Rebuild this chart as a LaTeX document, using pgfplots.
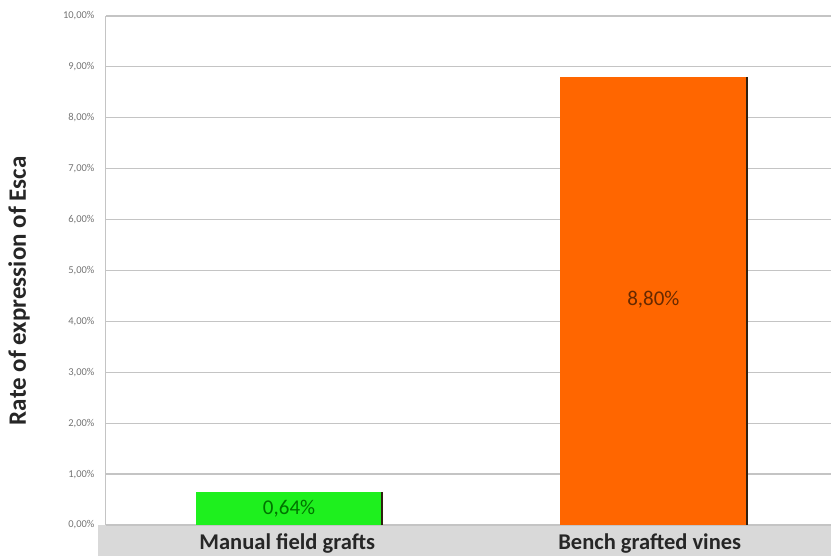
\documentclass[border=0pt]{standalone}
\usepackage{pgfplots}
\pgfplotsset{compat=1.18}
\usepackage{fontspec}
\setmainfont{Carlito}
\definecolor{gridgray}{HTML}{C4C4C4}
\definecolor{bandgray}{HTML}{D9D9D9}
\definecolor{bargreen}{HTML}{1EF01E}
\definecolor{barorange}{HTML}{FF6600}
\begin{document}
\begin{tikzpicture}
\fill[bandgray] (-8pt,-31pt) rectangle (725pt,0pt);
\begin{axis}[
  at={(0,0)}, anchor=south west,
  scale only axis, width=725pt, height=509pt,
  xmin=-0.5, xmax=1.5, ymin=0, ymax=10,
  axis x line*=bottom, axis y line*=left,
  x axis line style={draw=none},
  y axis line style={gridgray, line width=1pt},
  xtick={0,1}, xticklabels={Manual field grafts, Bench grafted vines},
  xticklabel style={font=\fontsize{22.5}{26}\selectfont\bfseries, text=black!85, anchor=base, yshift=-25pt},
  major x tick style={draw=none},
  ytick={0,1,...,10},
  yticklabels={{0,00\%},{1,00\%},{2,00\%},{3,00\%},{4,00\%},{5,00\%},{6,00\%},{7,00\%},{8,00\%},{9,00\%},{10,00\%}},
  yticklabel style={font=\fontsize{10.5}{12}\selectfont, text=black!55, xshift=-8pt},
  major y tick style={draw=none},
  ymajorgrids, grid style={gridgray, line width=1.2pt},
  ylabel={Rate of expression of Esca},
  ylabel style={font=\fontsize{25}{30}\selectfont\bfseries, text=black!85, at={(axis description cs:-0.12,0.46)}, anchor=center, rotate=0},
  clip=false,
]
\addplot[ybar, bar width=187pt, fill=bargreen, draw=none, bar shift=0pt] coordinates {(0.005,0.64)};
\addplot[ybar, bar width=187pt, fill=barorange, draw=none, bar shift=0pt] coordinates {(1.01,8.80)};
\addplot[ycomb, line width=2pt, draw=black!75!brown, mark=none] coordinates {(0.262,0.64) (1.267,8.80)};
\node[font=\fontsize{21}{24}\selectfont, text=green!45!black] at (axis cs:0.005,0.32) {0,64\%};
\node[font=\fontsize{21}{24}\selectfont, text=black!60!barorange] at (axis cs:1.01,4.42) {8,80\%};
\end{axis}
\pgfresetboundingbox
\path (-106pt,-31pt) rectangle (725pt,525pt);
\end{tikzpicture}
\end{document}
